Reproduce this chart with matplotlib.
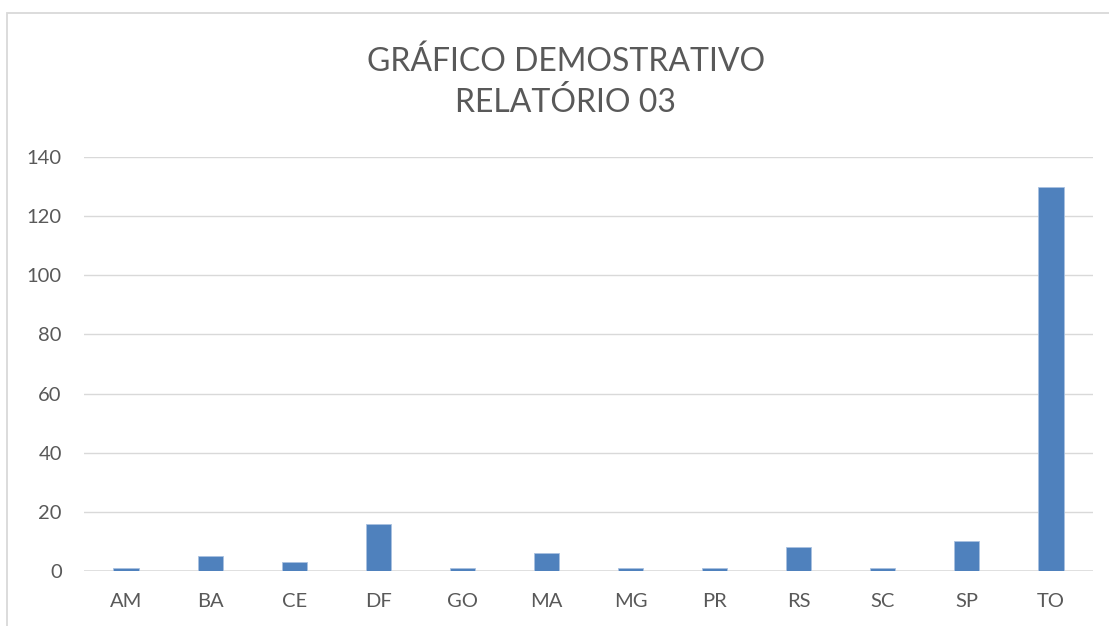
import numpy as np
import matplotlib.pyplot as plt
from matplotlib.patches import Rectangle

plt.rcParams['font.family'] = ['Lato', 'DejaVu Sans']

## dados do relatorio
estados = ['AM', 'BA', 'CE', 'DF', 'GO', 'MA', 'MG', 'PR', 'RS', 'SC', 'SP', 'TO']
valores = [1, 5, 3, 16, 1, 6, 1, 1, 8, 1, 10, 130]
yticks = [0, 20, 40, 60, 80, 100, 120, 140]

cinza_txt = '#595959'
cinza_grade = '#d9d9d9'
azul = '#4f81bd'

fig = plt.figure(figsize=(11.09, 6.26), dpi=100)

# moldura do grafico (cortada a direita e embaixo)
fig.patches.append(Rectangle((7 / 1109, -0.1), 1.2, 1.1 - 13 / 626,
                             transform=fig.transFigure, fill=False,
                             edgecolor=cinza_grade, linewidth=1.3))

ax = fig.add_axes([84 / 1109, 55 / 626, (1093 - 84) / 1109, (571 - 157) / 626])

x = np.arange(len(estados))
ax.bar(x, valores, width=0.3, color=azul, edgecolor='#a9c1e0', linewidth=0.6, zorder=3)

ax.set_xlim(-0.5, len(estados) - 0.5)
ax.set_ylim(0, 140)
ax.set_yticks(yticks)
ax.set_xticks(x)
ax.set_xticklabels(estados)

for s in ax.spines.values():
    s.set_visible(False)
ax.grid(axis='y', color=cinza_grade, linewidth=1.0, zorder=0)
ax.axhline(0, color=cinza_grade, linewidth=1.8, zorder=2)
ax.tick_params(axis='both', length=0, labelsize=14.5, colors=cinza_txt)
ax.tick_params(axis='x', pad=16)
ax.tick_params(axis='y', pad=16)

fig.text(0.51, 1 - 62 / 626, 'GRÁFICO DEMOSTRATIVO', ha='center', va='center',
         fontsize=23, color=cinza_txt)
fig.text(0.51, 1 - 103 / 626, 'RELATÓRIO 03', ha='center', va='center',
         fontsize=23, color=cinza_txt)

fig.savefig('out.png', dpi=100)
